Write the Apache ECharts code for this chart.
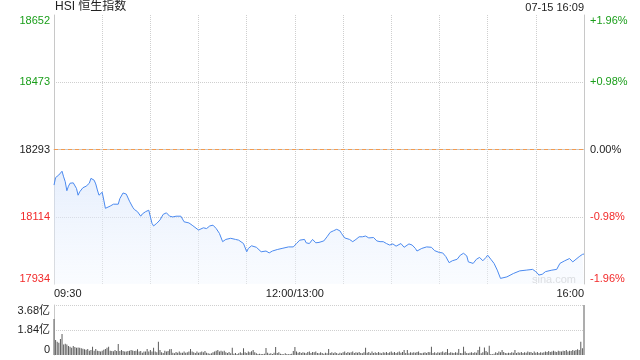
<!DOCTYPE html>
<html>
<head>
<meta charset="utf-8">
<script src="https://cdn.jsdelivr.net/npm/echarts@6/dist/echarts.min.js"></script>
<style>
html, body { margin: 0; padding: 0; background: #fff; }
#chart { width: 640px; height: 360px; }
</style>
</head>
<body>
<div id="chart"></div>
<script>
// previous close and half-range of the price panel, index points
const preClose = 18293;
const priceRange = 359;
const volumeMax = 3.68;

const timeLabels = { 0: "09:30", 150: "12:00/13:00", 330: "16:00" };

// minutes since 09:30 (trading minutes, lunch removed)
const priceMinutes = [
	0, 1, 2, 3, 5, 6, 7, 8, 9, 10, 12, 13, 14, 15, 16, 18, 20, 22, 23, 25,
	26, 27, 28, 29, 30, 31, 32, 35, 37, 38, 40, 41, 43, 45, 47, 49, 50, 52, 54, 55,
	57, 59, 60, 61, 62, 64, 66, 68, 70, 72, 74, 76, 79, 81, 82, 84, 86, 87, 90, 91,
	93, 95, 97, 99, 101, 103, 105, 107, 110, 113, 115, 118, 120, 121, 123, 126, 129, 132, 134, 136,
	139, 142, 146, 149, 151, 153, 156, 157, 159, 161, 163, 165, 168, 170, 172, 174, 176, 178, 179, 181,
	184, 186, 188, 190, 192, 194, 196, 199, 201, 203, 205, 207, 209, 211, 213, 214, 216, 218, 219, 221,
	223, 225, 226, 229, 232, 235, 237, 240, 242, 244, 246, 248, 251, 253, 255, 257, 258, 261, 263, 265,
	267, 269, 270, 272, 274, 276, 278, 282, 286, 290, 294, 298, 300, 302, 304, 306, 310, 313, 315, 318,
	321, 323, 325, 327, 328, 329, 330
];

const prices = [
	18198, 18218, 18220, 18225, 18235, 18220, 18207, 18183, 18195, 18203, 18204, 18203, 18189, 18171, 18180, 18191, 18195, 18203, 18216, 18211,
	18201, 18185, 18171, 18176, 18179, 18158, 18136, 18142, 18147, 18151, 18147, 18162, 18177, 18174, 18155, 18139, 18133, 18127, 18115, 18121,
	18127, 18131, 18127, 18096, 18089, 18096, 18105, 18120, 18124, 18115, 18113, 18115, 18115, 18100, 18102, 18097, 18091, 18087, 18078, 18082,
	18084, 18082, 18089, 18091, 18082, 18069, 18047, 18053, 18056, 18053, 18051, 18042, 18020, 18029, 18036, 18032, 18020, 18022, 18017, 18022,
	18026, 18029, 18033, 18033, 18042, 18051, 18053, 18044, 18042, 18053, 18044, 18045, 18049, 18060, 18072, 18076, 18080, 18076, 18069, 18057,
	18053, 18047, 18053, 18060, 18060, 18062, 18057, 18058, 18049, 18047, 18047, 18042, 18038, 18041, 18035, 18038, 18042, 18032, 18035, 18041,
	18038, 18029, 18022, 18029, 18033, 18032, 18023, 18018, 18017, 18007, 17991, 17996, 18000, 18011, 18016, 18009, 17993, 17989, 18000, 18005,
	17996, 18005, 18011, 18000, 17989, 17971, 17949, 17953, 17962, 17969, 17971, 17973, 17967, 17958, 17960, 17967, 17971, 17973, 17989, 17996,
	18002, 17993, 18000, 18007, 18011, 18013, 18014
];

// one bar per minute, in 亿
const volumes = [
	2.65, 1.10, 0.98, 0.91, 1.18, 1.54, 0.78, 0.83, 0.78, 0.66,
	0.61, 0.54, 0.66, 0.59, 0.54, 0.56, 0.54, 0.49, 0.46, 0.42,
	0.39, 0.44, 0.32, 0.37, 0.61, 0.32, 0.44, 0.32, 0.29, 0.25,
	0.32, 0.38, 0.44, 0.54, 0.61, 0.32, 0.29, 0.27, 0.37, 0.29,
	0.81, 0.29, 0.37, 0.29, 0.25, 0.25, 0.29, 0.32, 0.37, 0.34,
	0.29, 0.32, 0.42, 0.25, 0.29, 0.17, 0.25, 0.25, 0.44, 0.25,
	0.37, 0.25, 0.54, 0.25, 0.20, 0.98, 0.37, 0.20, 0.15, 0.32,
	0.25, 0.29, 0.42, 0.44, 0.17, 0.12, 0.22, 0.17, 0.25, 0.17,
	0.17, 0.25, 0.17, 0.20, 0.25, 0.44, 0.25, 0.20, 0.15, 0.25,
	0.17, 0.20, 0.25, 0.20, 0.29, 0.17, 0.12, 0.10, 0.12, 0.20,
	0.25, 0.32, 0.37, 0.25, 0.32, 0.25, 0.32, 0.20, 0.15, 0.22,
	0.12, 0.54, 0.10, 0.15, 0.07, 0.12, 0.20, 0.12, 0.49, 0.20,
	0.15, 0.25, 0.20, 0.27, 0.37, 0.20, 0.12, 0.07, 0.10, 0.07,
	0.07, 0.10, 0.51, 0.17, 0.10, 0.12, 0.07, 0.17, 0.59, 0.15,
	0.20, 0.10, 0.07, 0.05, 0.12, 0.07, 0.05, 0.07, 0.10, 0.29,
	0.59, 0.25, 0.17, 0.22, 0.15, 0.20, 0.17, 0.12, 0.22, 0.25,
	0.15, 0.22, 0.20, 0.25, 0.15, 0.12, 0.20, 0.15, 0.10, 0.17,
	0.12, 0.44, 0.15, 0.20, 0.12, 0.20, 0.15, 0.10, 0.17, 0.12,
	0.20, 0.25, 0.15, 0.22, 0.17, 0.20, 0.25, 0.15, 0.20, 0.17,
	0.22, 0.15, 0.12, 0.20, 0.54, 0.17, 0.22, 0.12, 0.25, 0.15,
	0.20, 0.15, 0.22, 0.17, 0.12, 0.20, 0.17, 0.22, 0.15, 0.20,
	0.25, 0.17, 0.22, 0.15, 0.20, 0.25, 0.17, 0.22, 0.37, 0.15,
	0.37, 0.12, 0.20, 0.17, 0.20, 0.17, 0.22, 0.25, 0.15, 0.12,
	0.17, 0.20, 0.15, 0.22, 0.20, 0.61, 0.15, 0.20, 0.12, 0.20,
	0.17, 0.20, 0.25, 0.17, 0.22, 0.44, 0.15, 0.20, 0.17, 0.15,
	0.20, 0.17, 0.44, 0.15, 0.12, 0.61, 0.25, 0.15, 0.12, 0.17,
	0.20, 0.15, 0.20, 0.17, 0.37, 0.61, 0.12, 0.20, 0.56, 0.29,
	0.20, 0.69, 0.07, 0.05, 0.10, 0.20, 0.15, 0.25, 0.20, 0.37,
	0.22, 0.15, 0.12, 0.17, 0.15, 0.20, 0.17, 0.37, 0.15, 0.20,
	0.17, 0.22, 0.15, 0.20, 0.17, 0.25, 0.20, 0.22, 0.15, 0.25,
	0.17, 0.22, 0.15, 0.20, 0.17, 0.20, 0.25, 0.22, 0.29, 0.22,
	0.25, 0.32, 0.25, 0.22, 0.32, 0.27, 0.25, 0.32, 0.29, 0.37,
	0.25, 0.32, 0.29, 0.37, 0.32, 0.37, 0.42, 0.37, 0.98, 0.49,
	3.68
];

const colors = {
	up: "#1a9e1a",
	down: "#f22a2a",
	flat: "#222222",
	line: "#4a89ef",
	axis: "#c8c8c8",
	grid: "#cfcfcf",
	preClose: "#f39b50",
	volume: "#5c5c5c"
};

const font = "Arial, 'Liberation Sans', 'Noto Sans CJK SC', sans-serif";
const none = "rgba(0,0,0,0)";

const signColor = value => {
	const v = Number(value);
	if (v > 0.001) return colors.up;
	if (v < -0.001) return colors.down;
	return colors.flat;
};

const priceLabel = value => String(Math.round(preClose + Number(value)));
const percentLabel = value => {
	const pct = Number(value) / preClose * 100;
	if (Math.abs(pct) < 0.0001) return "0.00%";
	return (pct > 0 ? "+" : "") + pct.toFixed(2) + "%";
};

const priceAxis = {
	type: "value",
	gridIndex: 0,
	min: -priceRange,
	max: priceRange,
	interval: priceRange / 2,
	axisLine: { show: true, lineStyle: { color: colors.axis } },
	axisTick: { show: false }
};

const chart = echarts.init(document.getElementById("chart"), null, { renderer: "canvas" });

chart.setOption({
	animation: false,
	textStyle: { fontFamily: font },
	title: {
		text: "HSI 恒生指数",
		left: 55,
		top: 1,
		padding: 0,
		textStyle: { fontSize: 12, fontWeight: "normal", color: "#222", fontFamily: font }
	},
	graphic: [
		{ type: "text", right: 56, top: 2, style: { text: "07-15 16:09", font: "11px " + font, fill: "#222" } },
		{ type: "text", left: 532, top: 274, style: { text: "sina.com", font: "11px " + font, fill: "#cccccc" } }
	],
	grid: [
		{ left: 54, right: 56, top: 15, height: 269 },
		{ left: 54, right: 56, top: 305, height: 50 }
	],
	xAxis: [
		{
			type: "value",
			gridIndex: 0,
			min: 0,
			max: 330,
			interval: 30,
			axisLine: { show: true, lineStyle: { color: colors.axis } },
			axisTick: { show: false },
			axisLabel: {
				margin: 4,
				fontSize: 11,
				color: "#222",
				fontFamily: font,
				alignMinLabel: "left",
				alignMaxLabel: "right",
				showMinLabel: true,
				showMaxLabel: true,
				formatter: value => timeLabels[value] || ""
			},
			splitLine: { show: true, lineStyle: { color: colors.grid, type: "dotted" } }
		},
		{
			type: "value",
			gridIndex: 1,
			min: 0,
			max: 330,
			interval: 30,
			axisLine: { show: false },
			axisTick: { show: false },
			axisLabel: { show: false },
			splitLine: { show: false }
		}
	],
	yAxis: [
		{
			...priceAxis,
			position: "left",
			axisLabel: {
				margin: 4,
				fontSize: 11,
				fontFamily: font,
				color: signColor,
				verticalAlignMaxLabel: "top",
				verticalAlignMinLabel: "bottom",
				formatter: priceLabel
			},
			splitLine: {
				show: true,
				lineStyle: { color: [none, colors.grid, colors.grid, colors.grid, none], type: "dotted" }
			}
		},
		{
			...priceAxis,
			position: "right",
			axisLabel: {
				margin: 6,
				fontSize: 11,
				fontFamily: font,
				color: signColor,
				verticalAlignMaxLabel: "top",
				verticalAlignMinLabel: "bottom",
				formatter: percentLabel
			},
			splitLine: { show: false }
		},
		{
			type: "value",
			gridIndex: 1,
			min: 0,
			max: volumeMax,
			interval: volumeMax / 2,
			axisLine: { show: true, lineStyle: { color: colors.axis } },
			axisTick: { show: false },
			axisLabel: {
				margin: 4,
				fontSize: 11,
				fontFamily: font,
				color: "#222",
				verticalAlignMaxLabel: "top",
				verticalAlignMinLabel: "bottom",
				formatter: value => (value === 0 ? "0" : value.toFixed(2) + "亿")
			},
			splitLine: {
				show: true,
				lineStyle: { color: [none, colors.grid, colors.grid], type: "dotted" }
			}
		}
	],
	series: [
		{
			name: "HSI",
			type: "line",
			xAxisIndex: 0,
			yAxisIndex: 0,
			data: priceMinutes.map((m, i) => [m, prices[i] - preClose]),
			showSymbol: false,
			symbol: "none",
			lineStyle: { color: colors.line, width: 1 },
			areaStyle: {
				origin: "start",
				color: new echarts.graphic.LinearGradient(0, 0, 0, 1, [
					{ offset: 0, color: "rgba(214,228,251,0.85)" },
					{ offset: 1, color: "rgba(242,247,255,0.6)" }
				])
			},
			markLine: {
				silent: true,
				symbol: "none",
				label: { show: false },
				data: [
					{
						yAxis: 0,
						lineStyle: { color: colors.preClose, type: [4, 3], width: 1 }
					}
				]
			}
		},
		{
			name: "成交额",
			type: "bar",
			xAxisIndex: 1,
			yAxisIndex: 2,
			data: volumes.map((v, i) => [i, v]),
			barWidth: 1,
			itemStyle: { color: colors.volume }
		}
	]
});
</script>
</body>
</html>
